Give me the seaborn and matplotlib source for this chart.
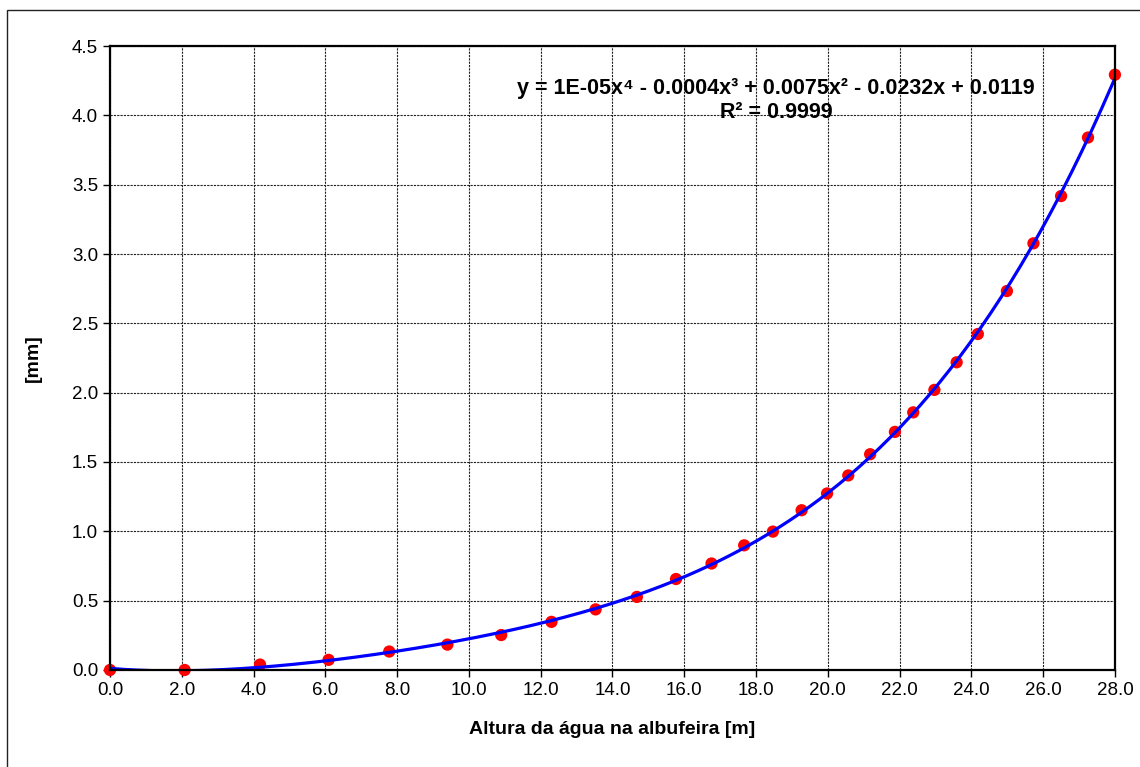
import numpy as np
import pandas as pd
import matplotlib
matplotlib.use("Agg")
import matplotlib.pyplot as plt
from matplotlib.patches import Rectangle
import seaborn as sns

# leituras (altura da agua [m] vs deslocamento [mm])
altura = [0.0, 2.08, 4.18, 6.09, 7.78, 9.40, 10.90, 12.30, 13.53, 14.68,
          15.77, 16.76, 17.67, 18.47, 19.27, 19.98, 20.57, 21.18, 21.87,
          22.38, 22.97, 23.59, 24.18, 24.99, 25.73, 26.50, 27.25, 28.0]
desloc = [0.0, 0.0, 0.039, 0.073, 0.133, 0.183, 0.252, 0.347, 0.437, 0.527,
          0.656, 0.768, 0.899, 0.998, 1.152, 1.273, 1.403, 1.556, 1.717,
          1.858, 2.020, 2.219, 2.423, 2.733, 3.077, 3.418, 3.840, 4.293]

x_ticks = np.arange(0, 28.1, 2.0)
y_ticks = np.arange(0, 4.51, 0.5)

eq_text = "y = 1E-05x\u2074 - 0.0004x\u00b3 + 0.0075x\u00b2 - 0.0232x + 0.0119\nR\u00b2 = 0.9999"
x_label = "Altura da água na albufeira [m]"
y_label = "[mm]"

sns.set_style("ticks")
plt.rcParams['font.family'] = ['Liberation Sans', 'DejaVu Sans']
# texto a preto como no excel
for k in ['text.color', 'axes.labelcolor', 'xtick.color', 'ytick.color']:
    plt.rcParams[k] = 'black'

df = pd.DataFrame({"altura": altura, "desloc": desloc})

# linha de tendencia polinomial de grau 4
coef = np.polyfit(df["altura"], df["desloc"], 4)
xs = np.linspace(0, 28, 300)
trend = pd.DataFrame({"altura": xs, "desloc": np.polyval(coef, xs)})

fig = plt.figure(figsize=(11.4, 7.67), dpi=100)
ax = fig.add_axes([0.0965, 0.1265, 0.8815, 0.8135])

sns.scatterplot(data=df, x="altura", y="desloc", ax=ax, color="#FF0000",
                s=78, edgecolor="none", zorder=3, clip_on=False)
sns.lineplot(data=trend, x="altura", y="desloc", ax=ax, color="#0000FF",
             linewidth=2.3, zorder=4)

ax.set_xlim(0, 28)
ax.set_ylim(0, 4.5)
ax.set_xticks(x_ticks)
ax.set_yticks(y_ticks)
ax.set_xticklabels([f"{v:.1f}" for v in x_ticks])
ax.set_yticklabels([f"{v:.1f}" for v in y_ticks])
ax.tick_params(direction="out", length=5, width=1, labelsize=13.5, color="black")

# grelha pontilhada estilo excel
ax.grid(True, which="major", color="#222222", linestyle=(0, (2, 1)), linewidth=0.8)
ax.set_axisbelow(True)
for s in ax.spines.values():
    s.set_visible(True)
    s.set_color("black")
    s.set_linewidth(1.6)
    s.set_zorder(5)

ax.set_xlabel(x_label, fontsize=14, fontweight="bold", labelpad=16)
ax.set_ylabel(y_label, fontsize=14, fontweight="bold", labelpad=22)

ax.text(0.663, 0.913, eq_text, transform=ax.transAxes, ha="center", va="center",
        fontsize=15.5, fontweight="bold", linespacing=1.2,
        family=['Liberation Sans', 'DejaVu Sans'])

# moldura do grafico
fig.patches.append(Rectangle((7 / 1140, -0.1), 1.2, 1.1 - 10 / 767,
                             transform=fig.transFigure, fill=False,
                             edgecolor="#222222", linewidth=1.0))

fig.savefig("out.png", dpi=100)
